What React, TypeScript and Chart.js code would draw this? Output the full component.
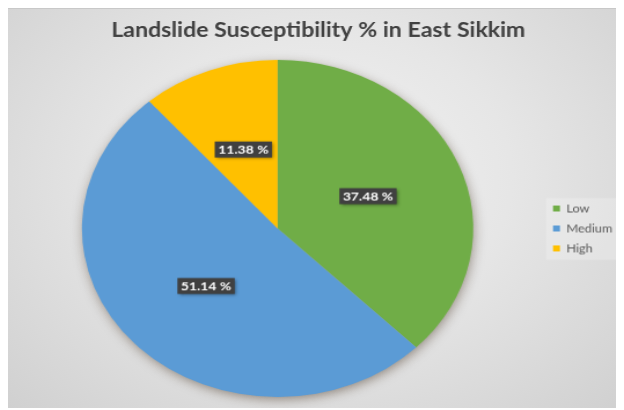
import React, { useEffect, useRef } from "react";
import { Chart, registerables } from "chart.js";

Chart.register(...registerables);

const categories: string[] = ["Low", "Medium", "High"];
const values: number[] = [37.48, 51.14, 11.38];
const sliceColors: string[] = ["#70AD47", "#5B9BD5", "#FFC000"];
const titleText = "Landslide Susceptibility % in East Sikkim";

const FONT = "Lato, 'Open Sans', sans-serif";

const legendBgPlugin = {
  id: "legendBg",
  beforeDraw(chart: any) {
    const lg = chart.legend;
    if (!lg || !lg.legendHitBoxes || !lg.legendHitBoxes.length) return;
    const hb = lg.legendHitBoxes;
    let right = 0;
    hb.forEach((h: any) => (right = Math.max(right, h.left + h.width)));
    const left = hb[0].left - 6;
    const top = hb[0].top - 5;
    const bottom = hb[hb.length - 1].top + hb[hb.length - 1].height + 6;
    const ctx = chart.ctx;
    ctx.save();
    ctx.fillStyle = "rgba(255,255,255,0.22)";
    ctx.fillRect(left, top, right + 6 - left, bottom - top);
    ctx.restore();
  },
};

const shadowPlugin = {
  id: "pieShadow",
  beforeDatasetsDraw(chart: any) {
    const arc = chart.getDatasetMeta(0).data[0];
    if (!arc) return;
    const { x, y, outerRadius } = arc.getProps(["x", "y", "outerRadius"], true);
    const ctx = chart.ctx;
    ctx.save();
    ctx.shadowColor = "rgba(60,40,20,0.5)";
    ctx.shadowBlur = 11;
    ctx.shadowOffsetX = 1;
    ctx.shadowOffsetY = 3;
    ctx.fillStyle = "#b0b0b0";
    ctx.beginPath();
    ctx.arc(x, y, outerRadius - 1, 0, Math.PI * 2);
    ctx.fill();
    ctx.restore();
  },
};

const labelPlugin = {
  id: "sliceLabels",
  afterDatasetsDraw(chart: any) {
    const meta = chart.getDatasetMeta(0);
    const ctx = chart.ctx;
    ctx.save();
    ctx.font = `bold 12px ${FONT}`;
    meta.data.forEach((arc: any, i: number) => {
      const { x, y } = arc.tooltipPosition(true);
      const text = values[i].toFixed(2) + " %";
      const w = ctx.measureText(text).width + 6;
      const h = 16;
      ctx.save();
      ctx.shadowColor = "rgba(0,0,0,0.45)";
      ctx.shadowBlur = 3;
      ctx.shadowOffsetX = 1.5;
      ctx.shadowOffsetY = 1.5;
      ctx.fillStyle = "#404040";
      ctx.fillRect(x - w / 2, y - h / 2, w, h);
      ctx.restore();
      ctx.fillStyle = "#ffffff";
      ctx.textAlign = "center";
      ctx.textBaseline = "middle";
      ctx.fillText(text, x, y + 0.5);
    });
    ctx.restore();
  },
};

export default function App() {
  const ref = useRef<HTMLCanvasElement | null>(null);

  useEffect(() => {
    if (!ref.current) return;
    const chart = new Chart(ref.current, {
      type: "pie",
      data: {
        labels: categories,
        datasets: [
          {
            data: values,
            backgroundColor: sliceColors,
            borderWidth: 0,
          },
        ],
      },
      options: {
        responsive: false,
        animation: false,
        layout: { padding: { top: 10, bottom: 11, left: 4, right: 0 } },
        plugins: {
          title: {
            display: true,
            text: titleText,
            color: "#404040",
            font: { family: FONT, size: 20, weight: "bold" },
            padding: { top: 0, bottom: 17 },
          },
          legend: {
            position: "right",
            fullSize: false,
            labels: {
              boxWidth: 6,
              boxHeight: 6,
              padding: 9,
              color: "#595959",
              font: { family: FONT, size: 11 },
            },
          },
          tooltip: { enabled: false },
        },
      },
      plugins: [legendBgPlugin, shadowPlugin, labelPlugin],
    } as any);
    return () => chart.destroy();
  }, []);

  return (
    <canvas
      ref={ref}
      width={532}
      height={400}
      style={{
        display: "block",
        width: "616px",
        height: "400px",
        borderTop: "1px solid #c8c8c8",
        boxSizing: "border-box",
        background:
          "radial-gradient(ellipse at 50% 42%, #f3f3f3 0%, #e6e6e6 45%, #d0d0d0 100%)",
      }}
    />
  );
}
